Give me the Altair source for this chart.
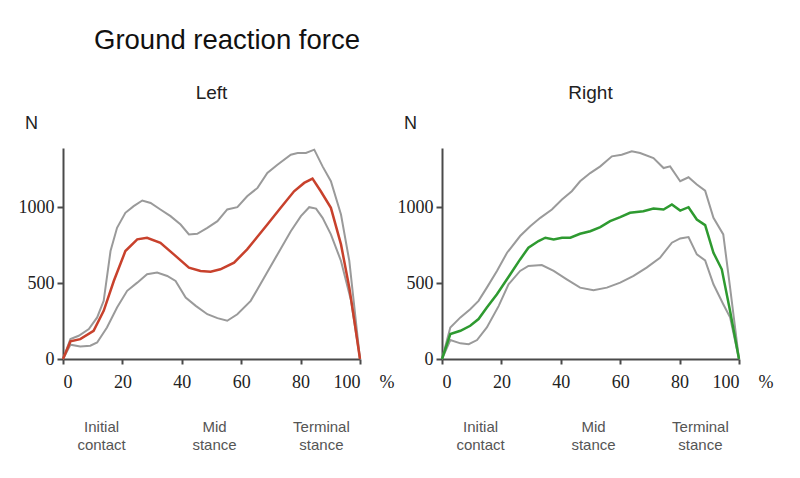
import altair as alt
import pandas as pd

# ---- data (x = % of stance, y = N) ----
left_mean_x = [0, 2.5, 5.8, 10.3, 13.7, 17.1, 21, 25, 28.3, 32.8, 37.3, 42.4, 46.3, 49.7, 53, 57.6, 62, 64.3, 68.8, 73.3, 77.8, 81.2, 84, 86.8, 90.2, 93.6, 96.4, 98.1, 100]
left_mean_y = [0, 116, 131, 186, 317, 514, 711, 788, 799, 766, 689, 602, 580, 575, 591, 635, 722, 777, 886, 996, 1105, 1160, 1188, 1105, 996, 755, 470, 252, 0]

left_upper_x = [0, 2.5, 5.3, 8.7, 11.5, 13.7, 16, 18.2, 21, 23.8, 26.7, 29.5, 32.8, 36.2, 39.6, 42.4, 45.2, 48.6, 52, 55.3, 58.7, 62, 65.5, 68.8, 72.2, 76.7, 79, 81.8, 84.6, 87.4, 90.2, 93.6, 96.4, 100]
left_upper_y = [0, 131, 153, 197, 274, 383, 711, 864, 963, 1007, 1044, 1028, 985, 941, 886, 821, 825, 864, 908, 985, 1000, 1072, 1127, 1225, 1280, 1346, 1357, 1357, 1379, 1269, 1171, 952, 646, 0]

left_lower_x = [0, 2.5, 5.8, 9.2, 11.5, 14.8, 18.2, 21.6, 25, 28.3, 31.7, 35.1, 37.9, 41.3, 44.7, 48.6, 52, 55.3, 58.7, 63.2, 67.7, 72.2, 76.7, 80.1, 82.9, 85.2, 87.4, 90.2, 93.6, 97, 100]
left_lower_y = [0, 94, 83, 88, 109, 208, 339, 449, 503, 558, 569, 547, 514, 405, 350, 295, 269, 252, 295, 383, 536, 689, 842, 941, 1000, 991, 930, 821, 646, 383, 0]

right_mean_x = [0, 2.8, 6.2, 9.5, 12.3, 15.1, 18.5, 23, 26.3, 29.1, 32.5, 34.8, 37.6, 40.4, 43.2, 46.5, 49.9, 53.3, 56.6, 60, 63.3, 67.8, 71.2, 74.6, 77.4, 80.2, 83, 85.8, 88.6, 91.4, 94.2, 97, 100]
right_mean_y = [0, 164, 186, 219, 263, 339, 427, 558, 656, 733, 777, 799, 788, 799, 799, 825, 842, 869, 908, 934, 963, 974, 991, 985, 1018, 978, 1000, 919, 882, 700, 591, 317, 0]

right_upper_x = [0, 2.8, 6.2, 9.5, 12.3, 15.1, 18.5, 21.9, 26.3, 29.7, 33.1, 37, 40.4, 43.7, 46.5, 49.9, 53.3, 57.2, 60.5, 63.9, 66.7, 71.2, 74.6, 76.8, 80.2, 83, 85.8, 88.6, 91.4, 94.7, 97, 100]
right_upper_y = [0, 208, 274, 328, 383, 470, 580, 700, 810, 875, 930, 985, 1050, 1105, 1171, 1225, 1269, 1335, 1346, 1368, 1357, 1324, 1258, 1269, 1171, 1197, 1149, 1109, 930, 821, 470, 0]

right_lower_x = [0, 2.8, 6.2, 9, 11.8, 15.1, 19.1, 22.4, 26.3, 29.1, 33.6, 37.6, 42, 46.5, 51, 55.5, 60, 64.5, 68.9, 73.4, 77.4, 80.2, 83, 85.8, 88.6, 91.4, 94.7, 97, 100]
right_lower_y = [0, 125, 103, 98, 125, 208, 350, 492, 580, 613, 619, 580, 525, 470, 453, 470, 503, 547, 602, 667, 766, 794, 803, 689, 650, 492, 361, 274, 0]

x_ticks = [0, 20, 40, 60, 80, 100]
y_ticks = [0, 500, 1000]
phase_labels = [["Initial", "contact"], ["Mid", "stance"], ["Terminal", "stance"]]
phase_x = [13, 51, 87]

W, H = 297, 211
YMAX = 1390
AXIS_COLOR = "#4a4a4a"
SERIF = "Liberation Serif"
SANS = "Liberation Sans"


def frame(xs, ys, name):
    return pd.DataFrame({"x": xs, "y": ys, "s": name})


def panel(title, mean, upper, lower, color):
    xsc = alt.Scale(domain=[0, 100], nice=False)
    ysc = alt.Scale(domain=[0, YMAX], nice=False)
    xax = alt.Axis(values=x_ticks, format="d", title="%", titleX=W + 19, titleY=14,
                   titleAlign="left", titleBaseline="top", titleFont=SERIF,
                   titleFontSize=18, titleFontWeight="normal", titleColor="#222",
                   labelFont=SERIF, labelFontSize=18, labelColor="#222",
                   tickSize=5, labelPadding=9, tickColor=AXIS_COLOR, tickWidth=2,
                   domainColor=AXIS_COLOR, domainWidth=2, grid=False)
    yax = alt.Axis(values=y_ticks, format="d", title="N", titleAngle=0, titleX=-32, titleY=-20,
                   titleAlign="center", titleBaseline="alphabetic", titleFont=SANS,
                   titleFontSize=18, titleFontWeight="normal", titleColor="#222",
                   labelFont=SERIF, labelFontSize=18, labelColor="#222",
                   tickSize=6, labelPadding=3, tickColor=AXIS_COLOR, tickWidth=2,
                   domainColor=AXIS_COLOR, domainWidth=2, grid=False)
    bands = pd.concat([frame(*upper, "upper"), frame(*lower, "lower")])
    m = frame(*mean, "mean")
    gray = alt.Chart(bands).mark_line(color="#9a9a9a", strokeWidth=2).encode(
        x=alt.X("x:Q", scale=xsc, axis=xax),
        y=alt.Y("y:Q", scale=ysc, axis=yax),
        detail="s:N",
    )
    mean_line = alt.Chart(m).mark_line(color=color, strokeWidth=2.5).encode(
        x=alt.X("x:Q", scale=xsc),
        y=alt.Y("y:Q", scale=ysc),
    )
    ph = pd.DataFrame({"x": phase_x, "label": phase_labels})
    phases = alt.Chart(ph).mark_text(font=SANS, fontSize=15, color="#555",
                                     baseline="alphabetic", lineHeight=18,
                                     align="center").encode(
        x=alt.X("x:Q", scale=xsc),
        y=alt.value(H + 73),
        text="label",
    )
    return alt.layer(gray, mean_line, phases).properties(
        width=W, height=H,
        view=alt.ViewBackground(stroke="transparent", strokeWidth=0),
        title=alt.TitleParams(title, fontSize=19, font=SANS, fontWeight="normal",
                              color="#222", offset=11),
    )


left = panel("Left", (left_mean_x, left_mean_y), (left_upper_x, left_upper_y),
             (left_lower_x, left_lower_y), "#c8412c")
right = panel("Right", (right_mean_x, right_mean_y), (right_upper_x, right_upper_y),
              (right_lower_x, right_lower_y), "#2e9a30")

chart = alt.hconcat(left, right, spacing=3).properties(
    title=alt.TitleParams("Ground reaction force", anchor="start", fontSize=27.5,
                          font=SANS, fontWeight="normal", color="#111",
                          dx=76, offset=30),
    padding={"left": 10, "top": 18, "right": 5, "bottom": 5},
).configure_view(strokeWidth=0, stroke="transparent").configure(background="white")

chart.save("out.html", embed_options={"renderer": "svg", "actions": False})
